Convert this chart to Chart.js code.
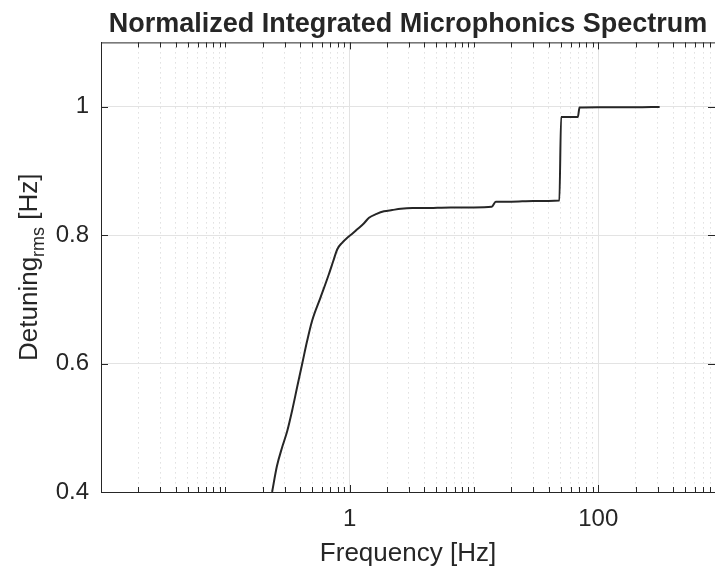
<!DOCTYPE html>
<html>
<head>
<meta charset="utf-8">
<script src="https://cdn.jsdelivr.net/npm/chart.js@4.4.1/dist/chart.umd.min.js"></script>
<style>
  html, body { margin: 0; padding: 0; background: #fff; }
  #wrap { width: 715px; height: 575px; }
</style>
</head>
<body>
<div id="wrap"><canvas id="spec"></canvas></div>
<script>
// Data (frequency in Hz, normalized rms detuning)
const freqs = [0.238, 0.26, 0.287, 0.315, 0.345, 0.38, 0.416, 0.455, 0.50, 0.584,
               0.681, 0.74, 0.796, 0.87, 0.958, 1.05, 1.153, 1.3, 1.432, 1.65,
               1.89, 2.2, 2.58, 3.2, 3.98, 6.5, 10, 13.9, 15.0, 20,
               30, 48.7, 50.3, 68.6, 70.7, 100, 200, 312];
const detuning = [0.400, 0.440, 0.470, 0.495, 0.527, 0.565, 0.600, 0.635, 0.667, 0.703,
                  0.739, 0.760, 0.778, 0.788, 0.796, 0.802, 0.809, 0.818, 0.827, 0.833,
                  0.837, 0.839, 0.841, 0.842, 0.842, 0.843, 0.843, 0.844, 0.852, 0.852,
                  0.853, 0.854, 0.984, 0.984, 0.9985, 0.999, 0.999, 0.9995];

const xTickValues = [0.01, 1, 100];
const xTickLabels = ['', '1', '100'];
const yTickValues = [0.4, 0.6, 0.8, 1];
const yTickLabels = ['0.4', '0.6', '0.8', '1'];

const FONT = "'Liberation Sans', Arial, Helvetica, sans-serif";
const INK = '#262626';

// minor log ticks (2..9 of every decade, plus the unlabeled decades)
const xMinorValues = [];
for (let e = -2; e <= 3; e++) {
    for (let k = 1; k <= 9; k++) {
        const v = k * Math.pow(10, e);
        if (!xTickValues.some(t => Math.abs(t - v) < 1e-9)) xMinorValues.push(v);
    }
}

// MATLAB style: ticks point inward, box on top
const boxTicks = {
    id: 'boxTicks',
    afterDraw(chart) {
        const { ctx, chartArea: a, scales } = chart;
        ctx.save();
        ctx.strokeStyle = INK;
        ctx.lineWidth = 1;
        ctx.beginPath();
        ctx.moveTo(a.left, a.top + 0.5);
        ctx.lineTo(a.right, a.top + 0.5);
        const mark = (vals, len) => {
            vals.forEach(v => {
                const px = Math.round(scales.x.getPixelForValue(v)) + 0.5;
                if (px < a.left || px > a.right) return;
                ctx.moveTo(px, a.bottom); ctx.lineTo(px, a.bottom - len);
                ctx.moveTo(px, a.top); ctx.lineTo(px, a.top + len);
            });
        };
        mark(xTickValues, 7);
        mark(xMinorValues, 5);
        yTickValues.forEach(v => {
            const py = Math.round(scales.y.getPixelForValue(v)) + 0.5;
            ctx.moveTo(a.left, py); ctx.lineTo(a.left + 7, py);
            ctx.moveTo(a.right, py); ctx.lineTo(a.right - 7, py);
        });
        ctx.stroke();

        // y label with subscript
        const cx = 30, cy = (a.top + a.bottom) / 2;
        const big = '26px ' + FONT, small = '18px ' + FONT;
        ctx.font = big;
        const w1 = ctx.measureText('Detuning').width;
        const w3 = ctx.measureText(' [Hz]').width;
        ctx.font = small;
        const w2 = ctx.measureText('rms').width;
        const total = w1 + w2 + w3;
        ctx.translate(cx, cy);
        ctx.rotate(-Math.PI / 2);
        ctx.fillStyle = INK;
        ctx.textBaseline = 'middle';
        ctx.textAlign = 'left';
        let x0 = -total / 2;
        ctx.font = big;
        ctx.fillText('Detuning', x0, 0);
        ctx.font = small;
        ctx.fillText('rms', x0 + w1, 9);
        ctx.font = big;
        ctx.fillText(' [Hz]', x0 + w1 + w2, 0);
        ctx.restore();
    }
};

const ctx = document.getElementById('spec');
new Chart(ctx, {
    type: 'line',
    data: {
        datasets: [{
            data: freqs.map((f, i) => ({ x: f, y: detuning[i] })),
            borderColor: INK,
            borderWidth: 2,
            pointRadius: 0,
            cubicInterpolationMode: 'monotone',
            fill: false
        }]
    },
    options: {
        responsive: true,
        maintainAspectRatio: false,
        animation: false,
        layout: { padding: { left: 0, right: 0, top: 0, bottom: 0 } },
        plugins: {
            legend: { display: false },
            tooltip: { enabled: false },
            title: {
                display: true,
                fullSize: false,
                text: 'Normalized Integrated Microphonics Spectrum',
                color: INK,
                font: { family: FONT, size: 27, weight: 'bold' },
                padding: { top: 8, bottom: 2 }
            }
        },
        scales: {
            x: {
                type: 'logarithmic',
                position: 'bottom',
                min: 0.01,
                max: 870,
                afterBuildTicks: axis => { axis.ticks = xTickValues.map(v => ({ value: v })); },
                afterFit: axis => { axis.height = 83; },
                ticks: {
                    autoSkip: false,
                    maxRotation: 0,
                    padding: 13,
                    color: INK,
                    font: { family: FONT, size: 24 },
                    callback: (v, i) => xTickLabels[i]
                },
                grid: { color: '#e3e3e3', lineWidth: 1, drawTicks: false },
                border: { display: true, color: INK, width: 1 },
                title: {
                    display: true,
                    text: 'Frequency [Hz]',
                    color: INK,
                    font: { family: FONT, size: 26 },
                    padding: { top: 0, bottom: 6 }
                }
            },
            xm: {
                type: 'logarithmic',
                position: 'bottom',
                min: 0.01,
                max: 870,
                afterBuildTicks: axis => { axis.ticks = xMinorValues.map(v => ({ value: v })); },
                afterFit: axis => { axis.height = 0; },
                ticks: { display: false },
                grid: { color: '#cfcfcf', lineWidth: 1, drawTicks: false },
                border: { display: false, dash: [1, 4] }
            },
            y: {
                type: 'linear',
                min: 0.4,
                max: 1.1,
                afterBuildTicks: axis => { axis.ticks = yTickValues.map(v => ({ value: v })); },
                afterFit: axis => { axis.width = 101; },
                ticks: {
                    padding: 12,
                    color: INK,
                    font: { family: FONT, size: 24 },
                    callback: (v, i) => yTickLabels[i]
                },
                grid: { color: '#e3e3e3', lineWidth: 1, drawTicks: false },
                border: { display: true, color: INK, width: 1 }
            }
        }
    },
    plugins: [boxTicks]
});
</script>
</body>
</html>
